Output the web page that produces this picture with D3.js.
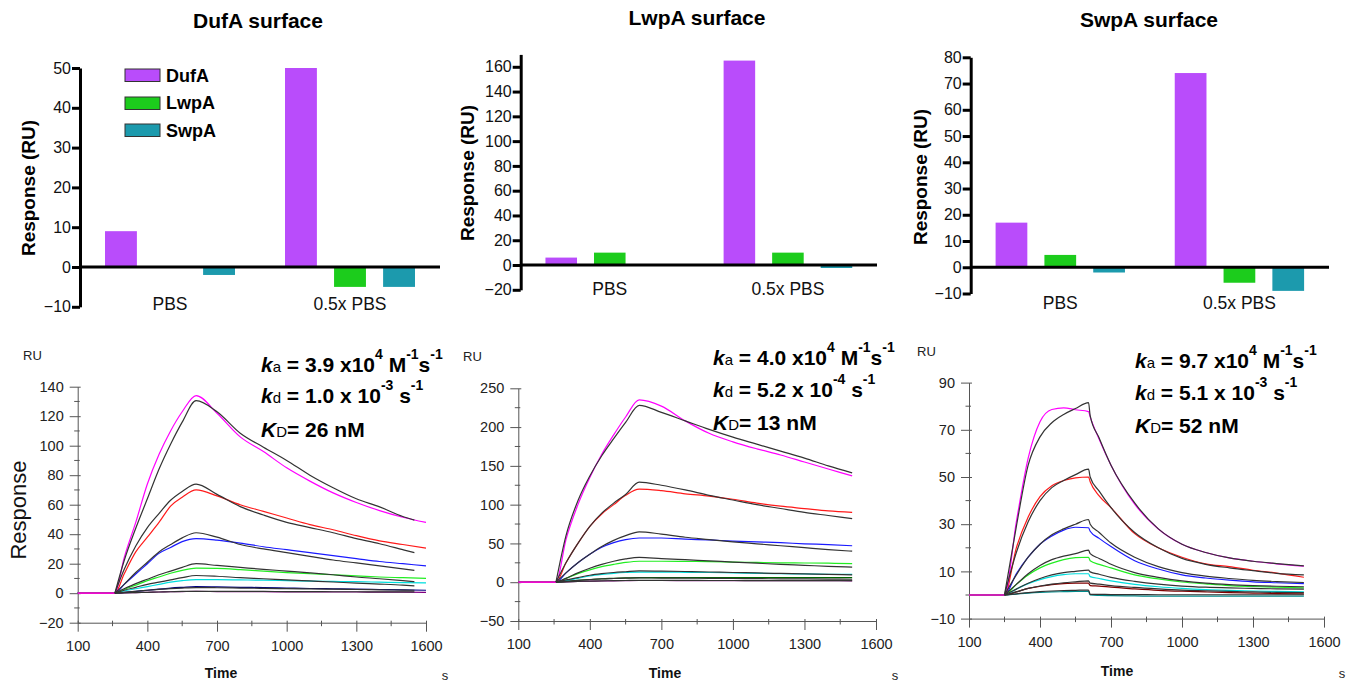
<!DOCTYPE html>
<html><head><meta charset="utf-8">
<script src="https://cdn.jsdelivr.net/npm/d3@7"></script>
<style>body{margin:0;background:#fff}svg{display:block}</style>
</head><body><svg id="c" width="1354" height="684"></svg>
<script>
// ---------- Bar chart data (top row) ----------
const barGroups = ["PBS", "0.5x PBS"];
const barSeries = ["DufA", "LwpA", "SwpA"];
const barColors = ["#b94cfb", "#1ccc1c", "#1c9aad"];
const dufaPBS = [9, 0, -2];
const dufaHalfPBS = [50, -5, -5];
const lwpaPBS = [6, 10, 0];
const lwpaHalfPBS = [165, 10, -2.4];
const swpaPBS = [17, 4.7, -2];
const swpaHalfPBS = [74, -5.9, -9];
const dufaTicks = [-10, 0, 10, 20, 30, 40, 50];
const lwpaTicks = [-20, 0, 20, 40, 60, 80, 100, 120, 140, 160];
const swpaTicks = [-10, 0, 10, 20, 30, 40, 50, 60, 70, 80];

// ---------- Sensorgram data (bottom row) ----------
// Panel 1: DufA
const p1DataTime = [100, 260, 300, 350, 400, 450, 500, 550, 610, 700, 800, 900, 1000, 1100, 1200, 1300, 1400, 1500, 1600];
const p1FitTime = [260, 300, 350, 400, 450, 500, 550, 610, 700, 800, 900, 1000, 1100, 1200, 1300, 1400, 1500, 1550];
const p1Magenta = [0, 0, 24, 48, 74, 94, 110, 123, 134, 122, 106, 96, 85, 76, 68, 61.5, 56, 51.5, 48];
const p1Red = [0, 0, 13, 28, 38, 48, 59, 65, 70, 66, 60, 55.5, 51, 46.5, 43, 39, 35.5, 33, 30.5];
const p1Blue = [0, 0, 6, 13, 20, 27, 31, 35, 37, 36, 34, 31.5, 29.5, 27.5, 25.5, 23.5, 21.5, 20, 18.5];
const p1Green = [0, 0, 2.5, 5.5, 8.5, 11, 13.5, 15.5, 17, 16.8, 16, 15, 14, 13.2, 12.5, 11.8, 11, 10.5, 10];
const p1Cyan = [0, 0, 1.5, 3, 4.5, 6, 7.5, 8.5, 9.2, 9.2, 9, 8.8, 8.5, 8.2, 8, 7.8, 7.5, 7.2, 7];
const p1Navy = [0, 0, 0.5, 1.2, 2, 2.8, 3.5, 4, 4.5, 4.3, 4, 3.8, 3.5, 3.2, 3, 2.8, 2.5, 2.2, 2];
const p1Purple = [0, 0, 0.2, 0.4, 0.6, 0.8, 1, 1.1, 1.2, 1.1, 1, 1, 0.9, 0.9, 0.8, 0.8, 0.7, 0.7, 0.6];
const p1FitMagenta = [0, 22, 44, 64, 84, 101, 116, 130.5, 123, 108.5, 99, 90, 80, 71.5, 64, 58.5, 52, 49.5];
const p1FitRed = [0, 16, 32, 44.5, 54, 63, 69, 74, 67, 58.7, 53, 48, 44.5, 41, 37, 33.5, 29.5, 27.5];
const p1FitBlue = [0, 6, 14, 21, 28, 33, 37.5, 41, 38, 33, 30, 27.5, 25, 22.5, 20.5, 18.5, 16.5, 15.5];
const p1FitGreen = [0, 3, 6.5, 9.5, 12.5, 15, 17.5, 20, 18.8, 17.5, 16.2, 15, 13.8, 12.5, 11, 9.8, 8.5, 7.8];
const p1FitCyan = [0, 2, 4, 6, 7.5, 9, 10.5, 12, 11.5, 10.5, 9.8, 9, 8.3, 7.6, 6.8, 6.2, 5.5, 5];
const p1FitNavy = [0, 0.6, 1.3, 2, 2.6, 3.1, 3.5, 3.8, 3.7, 3.5, 3.3, 3.1, 2.9, 2.7, 2.5, 2.3, 2.1, 2];
const p1FitPurple = [0, 0.2, 0.4, 0.6, 0.8, 1, 1.2, 1.3, 1.3, 1.2, 1.2, 1.1, 1.1, 1, 1, 0.9, 0.9, 0.9];

// Panel 2: LwpA
const p2DataTime = [100, 258, 300, 350, 400, 450, 500, 550, 607, 700, 800, 900, 1000, 1100, 1200, 1300, 1400, 1500];
const p2FitTime = [258, 300, 350, 400, 450, 500, 550, 607, 700, 800, 900, 1000, 1100, 1200, 1300, 1400, 1500];
const p2Magenta = [0, 0, 55, 100, 135, 165, 190, 213, 235, 227, 208, 192, 181, 172, 164, 155, 146, 137];
const p2Red = [0, 0, 25, 50, 72, 88, 100, 112, 120, 118, 114, 111, 107, 102, 98, 95, 92, 90];
const p2Blue = [0, 0, 12, 25, 36, 45, 51, 55, 57, 57, 55.5, 54.5, 53, 52, 51, 49.5, 48.5, 47];
const p2Green = [0, 0, 5, 11, 16, 20, 23, 25.5, 27, 27, 26.8, 26.5, 26, 25.5, 25, 24.8, 24.5, 24];
const p2Cyan = [0, 0, 2, 5, 8, 10, 11.5, 12.5, 13, 13, 12.8, 12.5, 12, 11.5, 11, 10.7, 10.3, 10];
const p2DarkGreen = [0, 0, 1, 2.5, 3.5, 4.5, 5, 5.5, 6, 6, 6, 6, 6, 6, 6, 6, 6, 6];
const p2Purple = [0, 0, 0.5, 1, 1.3, 1.6, 1.8, 2, 2.2, 2.2, 2.1, 2, 2, 2, 2, 1.9, 1.9, 1.8];
const p2FitMagenta = [0, 60, 105, 137, 163, 185, 206, 228, 219, 208, 197, 187, 178, 169, 160, 150, 141];
const p2FitRed = [0, 25, 50, 72, 89, 102, 113, 129, 125, 119, 112, 106, 100, 95, 90, 86, 82];
const p2FitBlue = [0, 12, 25, 36, 46, 54, 60, 65, 62, 58, 55, 52, 49.5, 47, 44.5, 42, 40];
const p2FitGreen = [0, 5, 12, 18, 23, 27, 30, 32, 30.5, 29, 27.5, 26, 24.5, 23, 21.8, 20.5, 19.5];
const p2FitCyan = [0, 3, 6, 9, 11, 12.5, 13.5, 14.5, 14.2, 13.8, 13.2, 12.5, 12, 11.3, 10.7, 10, 9.5];
const p2FitDarkGreen = [0, 1, 2.5, 3.5, 4.3, 4.8, 5.2, 5.5, 5.4, 5.2, 5, 4.8, 4.6, 4.4, 4.2, 4, 3.8];
const p2FitPurple = [0, 0.5, 1, 1.5, 1.8, 2, 2.2, 2.4, 2.3, 2.3, 2.2, 2.2, 2.1, 2.1, 2, 2, 2];

// Panel 3: SwpA
const p3DataTime = [100, 250, 300, 350, 400, 450, 500, 550, 605, 612, 650, 700, 800, 900, 1000, 1100, 1200, 1300, 1400, 1515];
const p3FitTime = [250, 300, 350, 400, 450, 500, 550, 605, 612, 650, 700, 800, 900, 1000, 1100, 1200, 1300, 1400, 1515];
const p3Magenta = [0, 0, 31, 58, 73.4, 78.6, 79.3, 78.5, 77.7, 75.5, 66, 55, 38.5, 28, 21.5, 18, 15.7, 14.3, 13.2, 12.2];
const p3Red = [0, 0, 20, 33, 41.7, 46.3, 48.5, 49.6, 50, 48, 42, 37, 26, 20, 16, 13.2, 12, 10.5, 9.3, 7.5];
const p3Blue = [0, 0, 9, 16, 21.5, 25, 27.5, 28.7, 28.5, 27, 24, 20.5, 14.5, 11, 8.5, 7.2, 6.3, 5.6, 5.2, 4.8];
const p3Green = [0, 0, 4.5, 8.5, 11.5, 13.5, 15, 15.8, 16, 14.5, 13, 11.5, 8.5, 6.8, 5.5, 4.7, 4, 3.6, 3.3, 3];
const p3Cyan = [0, 0, 2.5, 4.8, 6.5, 7.8, 8.6, 9, 9, 7.8, 7, 6, 4.5, 3.5, 2.8, 2.3, 2, 1.7, 1.5, 1.3];
const p3DarkRed = [0, 0, 1.3, 2.8, 3.7, 4.4, 4.8, 5, 5, 4, 3.8, 3.3, 2.6, 2, 1.6, 1.3, 1, 0.8, 0.6, 0.5];
const p3Teal = [0, 0, 0.4, 0.8, 1.1, 1.3, 1.4, 1.5, 1.5, 0, -0.2, -0.3, -0.4, -0.5, -0.5, -0.5, -0.5, -0.5, -0.5, -0.5];
const p3FitMagenta = [0, 29, 55, 67, 73, 76.5, 79, 81.5, 76, 66.5, 55, 39, 28, 21.5, 18, 15.7, 14.3, 13.3, 12.3];
const p3FitRed = [0, 18, 31, 40, 45.5, 48.5, 51, 53.3, 50, 44, 37, 26.5, 20, 15.5, 13, 11.5, 10.3, 9.2, 8.5];
const p3FitBlue = [0, 8.5, 16, 21.5, 25.5, 28, 30, 32, 30, 26.5, 22, 16, 12, 9.5, 8, 7, 6.2, 5.7, 5.3];
const p3FitGreen = [0, 4.5, 9, 12.5, 15, 16.5, 17.5, 19, 17.5, 15.5, 13, 9.5, 7.5, 6, 5, 4.4, 4, 3.7, 3.5];
const p3FitCyan = [0, 2.5, 5, 7, 8.5, 9.5, 10, 10.5, 9.8, 8.8, 7.5, 5.8, 4.6, 3.8, 3.3, 3, 2.8, 2.6, 2.5];
const p3FitDarkRed = [0, 1.3, 2.8, 3.8, 4.6, 5.2, 5.6, 6, 5, 4.6, 4, 3.2, 2.6, 2.1, 1.8, 1.5, 1.3, 1.1, 1];
const p3FitTeal = [0, 0.5, 1, 1.4, 1.7, 1.9, 2, 2.1, 0.3, 0.3, 0.2, 0.2, 0.1, 0.1, 0.1, 0.1, 0.1, 0.1, 0.1];

const timeTicks = [100, 400, 700, 1000, 1300, 1600];
const timeMinor = [250, 550, 850, 1150, 1450];

// ---------- Rendering ----------
const FONT = "'Liberation Sans', Arial, Helvetica, sans-serif";
const svg = d3.select("#c");
svg.append("rect").attr("width", 1354).attr("height", 684).attr("fill", "#fff");

function barPanel(cfg) {
  const g = svg.append("g");
  const x0 = d3.scaleBand().domain(barGroups).range(cfg.xr);
  const x1 = d3.scaleBand().domain(barSeries).range([0, x0.bandwidth()]).paddingInner(0.35).paddingOuter(0.51);
  const y = d3.scaleLinear().domain(cfg.yd).range(cfg.yr);
  const vals = [cfg.pbs, cfg.half];
  barGroups.forEach((grp, gi) => {
    barSeries.forEach((s, si) => {
      const v = vals[gi][si];
      if (v === 0) return;
      g.append("rect")
        .attr("x", x0(grp) + x1(s)).attr("width", x1.bandwidth())
        .attr("y", y(Math.max(0, v))).attr("height", Math.abs(y(v) - y(0)))
        .attr("fill", barColors[si]);
    });
  });
  g.append("line").attr("x1", cfg.xr[0]).attr("x2", cfg.xr[1]).attr("y1", y(0)).attr("y2", y(0))
    .attr("stroke", "#000").attr("stroke-width", 3);
  const ax = g.append("g").attr("transform", `translate(${cfg.xr[0]},0)`)
    .call(d3.axisLeft(y).tickValues(cfg.ticks).tickSizeInner(8).tickSizeOuter(0).tickPadding(1));
  ax.select(".domain").attr("stroke", "#000").attr("stroke-width", 3);
  ax.selectAll(".tick line").attr("stroke", "#000").attr("stroke-width", 3);
  ax.selectAll(".tick text").attr("font-family", FONT).attr("font-size", 16).attr("fill", "#111");
  barGroups.forEach(grp => {
    g.append("text").attr("x", x0(grp) + x0.bandwidth() / 2).attr("y", cfg.labY)
      .attr("text-anchor", "middle").attr("font-family", FONT).attr("font-size", 17.5).attr("fill", "#111").text(grp);
  });
  g.append("text").attr("x", cfg.title[0]).attr("y", cfg.title[1]).attr("text-anchor", "middle")
    .attr("font-family", FONT).attr("font-size", 21).attr("font-weight", "bold").text(cfg.titleText);
  g.append("text").attr("transform", `translate(${cfg.ylab[0]},${cfg.ylab[1]}) rotate(-90)`)
    .attr("text-anchor", "middle").attr("dominant-baseline", "central")
    .attr("font-family", FONT).attr("font-size", 19).attr("font-weight", "bold").text("Response (RU)");
  return g;
}

barPanel({xr: [80, 440], yd: [-10, 50], yr: [306.8, 68], ticks: dufaTicks, pbs: dufaPBS, half: dufaHalfPBS,
  labY: 310, title: [258, 28], titleText: "DufA surface", ylab: [28, 188]});
barPanel({xr: [520.7, 877], yd: [-20, 170], yr: [289.8, 54.4], ticks: lwpaTicks, pbs: lwpaPBS, half: lwpaHalfPBS,
  labY: 295, title: [697, 25], titleText: "LwpA surface", ylab: [467, 173]});
barPanel({xr: [970.7, 1329], yd: [-10, 80], yr: [293.5, 57.3], ticks: swpaTicks, pbs: swpaPBS, half: swpaHalfPBS,
  labY: 309, title: [1149, 27], titleText: "SwpA surface", ylab: [920, 177]});

// legend (DufA panel)
const legY = [69, 97, 124];
const legBase = [81.5, 109, 136.5];
barSeries.forEach((s, i) => {
  svg.append("rect").attr("x", 125).attr("y", legY[i]).attr("width", 35).attr("height", 12.5)
    .attr("fill", barColors[i]).attr("stroke", "#333").attr("stroke-width", 1);
  svg.append("text").attr("x", 166).attr("y", legBase[i]).attr("font-family", FONT)
    .attr("font-size", 18).attr("font-weight", "bold").text(s);
});

function kinLine(x, y, parts) {
  const t = svg.append("text").attr("x", x).attr("y", y).attr("font-family", FONT)
    .attr("fill", "#000").style("white-space", "pre");
  let cur = 0;
  parts.forEach(p => {
    const s = t.append("tspan").text(p.t);
    const want = p.sup ? -13 : 0;
    if (want !== cur) { s.attr("dy", want - cur); cur = want; }
    s.attr("font-size", p.sup ? 14 : (p.sub ? 15 : 21)).attr("font-weight", p.sub ? "normal" : "bold");
    if (p.it) s.attr("font-style", "italic");
  });
}

function sensorPanel(cfg) {
  const g = svg.append("g");
  const x = d3.scaleLinear().domain([100, 1600]).range(cfg.xr);
  const y = d3.scaleLinear().domain(cfg.yd).range(cfg.yr);
  const axCol = "#555";
  const ay = g.append("g").attr("transform", `translate(${cfg.xr[0]},0)`)
    .call(d3.axisLeft(y).tickValues(cfg.ymajor).tickFormat(d3.format("d")).tickSizeInner(8).tickSizeOuter(0).tickPadding(6));
  ay.select(".domain").attr("stroke", axCol);
  ay.selectAll(".tick line").attr("stroke", axCol).attr("x2", -8).attr("x1", 3);
  ay.selectAll(".tick text").attr("font-family", FONT).attr("font-size", 14.5).attr("fill", "#222");
  cfg.yminor.forEach(v => g.append("line").attr("x1", cfg.xr[0] - 3.5).attr("x2", cfg.xr[0] + 2)
    .attr("y1", y(v)).attr("y2", y(v)).attr("stroke", axCol));
  const ax = g.append("g").attr("transform", `translate(0,${y(cfg.yd[0])})`)
    .call(d3.axisBottom(x).tickValues(timeTicks).tickFormat(d3.format("d")).tickSizeInner(9).tickSizeOuter(0).tickPadding(9));
  ax.select(".domain").attr("stroke", axCol);
  ax.selectAll(".tick line").attr("stroke", axCol).attr("y1", -2);
  ax.selectAll(".tick text").attr("font-family", FONT).attr("font-size", 14.5).attr("fill", "#222");
  timeMinor.forEach(v => g.append("line").attr("x1", x(v)).attr("x2", x(v))
    .attr("y1", y(cfg.yd[0]) - 2).attr("y2", y(cfg.yd[0]) + 3.5).attr("stroke", axCol));
  const line = (times) => d3.line().x((d, i) => x(times[i])).y(d => y(d)).curve(d3.curveMonotoneX);
  cfg.data.forEach(([vals, col]) => g.append("path").attr("d", line(cfg.dataTime)(vals))
    .attr("fill", "none").attr("stroke", col).attr("stroke-width", 1.2));
  cfg.fits.forEach(vals => g.append("path").attr("d", line(cfg.fitTime)(vals))
    .attr("fill", "none").attr("stroke", "#333").attr("stroke-width", 1.2));
  g.append("text").attr("x", cfg.ru[0]).attr("y", cfg.ru[1]).attr("font-family", FONT).attr("font-size", 13).attr("fill", "#222").text("RU");
  g.append("text").attr("x", cfg.time[0]).attr("y", cfg.time[1]).attr("text-anchor", "middle").attr("font-family", FONT)
    .attr("font-size", 14).attr("font-weight", "bold").attr("fill", "#111").text("Time");
  g.append("text").attr("x", cfg.s[0]).attr("y", cfg.s[1]).attr("text-anchor", "middle").attr("font-family", FONT)
    .attr("font-size", 13).attr("fill", "#222").text("s");
  const k = cfg.kin;
  kinLine(k.x, k.y[0], [{t: "k", it: 1}, {t: "a", sub: 1}, {t: " = " + k.ka + " x10"}, {t: k.kaExp, sup: 1},
    {t: " M"}, {t: "-1", sup: 1}, {t: "s"}, {t: "-1", sup: 1}]);
  kinLine(k.x, k.y[1], [{t: "k", it: 1}, {t: "d", sub: 1}, {t: " = " + k.kd + " x 10"}, {t: k.kdExp, sup: 1},
    {t: " s"}, {t: "-1", sup: 1}]);
  kinLine(k.x, k.y[2], [{t: "K", it: 1}, {t: "D", sub: 1}, {t: "= " + k.KD + " nM"}]);
}

sensorPanel({
  xr: [77.7, 426], yd: [-20, 140], yr: [622.7, 386.7],
  ymajor: [-20, 0, 20, 40, 60, 80, 100, 120, 140], yminor: [-10, 10, 30, 50, 70, 90, 110, 130],
  dataTime: p1DataTime, fitTime: p1FitTime,
  data: [[p1Purple, "#800080"], [p1Navy, "#000080"], [p1Cyan, "#00dede"], [p1Green, "#22ee22"],
         [p1Blue, "#1a1aff"], [p1Red, "#ff1a1a"], [p1Magenta, "#ff00ff"]],
  fits: [p1FitPurple, p1FitNavy, p1FitCyan, p1FitGreen, p1FitBlue, p1FitRed, p1FitMagenta],
  ru: [23, 360], time: [221, 678], s: [445, 680],
  kin: {x: 261, y: [372, 403, 437], ka: "3.9", kaExp: "4", kd: "1.0", kdExp: "-3", KD: "26"}
});
sensorPanel({
  xr: [518.3, 876], yd: [-50, 250], yr: [621, 388.3],
  ymajor: [-50, 0, 50, 100, 150, 200, 250], yminor: [-25, 25, 75, 125, 175, 225],
  dataTime: p2DataTime, fitTime: p2FitTime,
  data: [[p2Purple, "#800080"], [p2DarkGreen, "#006400"], [p2Cyan, "#00dede"], [p2Green, "#22ee22"],
         [p2Blue, "#1a1aff"], [p2Red, "#ff1a1a"], [p2Magenta, "#ff00ff"]],
  fits: [p2FitPurple, p2FitDarkGreen, p2FitCyan, p2FitGreen, p2FitBlue, p2FitRed, p2FitMagenta],
  ru: [463, 361], time: [665, 678], s: [895, 680],
  kin: {x: 713, y: [365, 397, 430], ka: "4.0", kaExp: "4", kd: "5.2", kdExp: "-4", KD: "13"}
});
sensorPanel({
  xr: [969, 1324], yd: [-10, 90], yr: [618.6, 382.6],
  ymajor: [-10, 10, 30, 50, 70, 90], yminor: [0, 20, 40, 60, 80],
  dataTime: p3DataTime, fitTime: p3FitTime,
  data: [[p3Teal, "#008b8b"], [p3DarkRed, "#800000"], [p3Cyan, "#00dede"], [p3Green, "#22ee22"],
         [p3Blue, "#1a1aff"], [p3Red, "#ff1a1a"], [p3Magenta, "#ff00ff"]],
  fits: [p3FitTeal, p3FitDarkRed, p3FitCyan, p3FitGreen, p3FitBlue, p3FitRed, p3FitMagenta],
  ru: [917, 356], time: [1117, 676], s: [1342, 678],
  kin: {x: 1135, y: [368, 400, 433], ka: "9.7", kaExp: "4", kd: "5.1", kdExp: "-3", KD: "52"}
});

svg.append("text").attr("transform", "translate(18,510) rotate(-90)").attr("text-anchor", "middle")
  .attr("dominant-baseline", "central").attr("font-family", FONT).attr("font-size", 22).attr("fill", "#111").text("Response");
</script></body></html>
